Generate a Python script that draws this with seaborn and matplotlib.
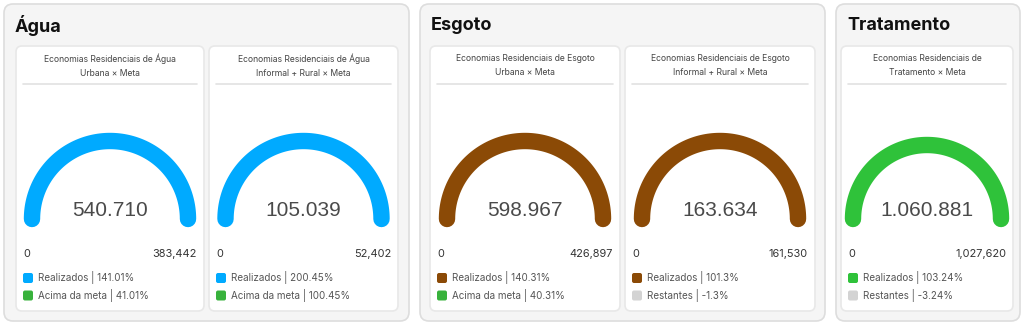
import numpy as np
import pandas as pd
import seaborn as sns
import matplotlib.pyplot as plt
from matplotlib.patches import FancyBboxPatch

grupos = ['Água', 'Esgoto', 'Tratamento']
titulos = [
    'Economias Residenciais de Água\nUrbana × Meta',
    'Economias Residenciais de Água\nInformal + Rural × Meta',
    'Economias Residenciais de Esgoto\nUrbana × Meta',
    'Economias Residenciais de Esgoto\nInformal + Rural × Meta',
    'Economias Residenciais de\nTratamento × Meta',
]
realizados = [540710, 105039, 598967, 163634, 1060881]
metas = [383442, 52402, 426897, 161530, 1027620]
pct_realizado = ['141.01%', '200.45%', '140.31%', '101.3%', '103.24%']
rotulo_extra = ['Acima da meta', 'Acima da meta', 'Acima da meta', 'Restantes', 'Restantes']
pct_extra = ['41.01%', '100.45%', '40.31%', '-1.3%', '-3.24%']
cores = ['#00aaff', '#00aaff', '#8b4a06', '#8b4a06', '#2fc23a']
cores_extra = ['#38b23c', '#38b23c', '#38b23c', '#d3d3d3', '#d3d3d3']

# layout (pixels)
grupo_box = [(4, 409), (420, 825), (836, 1020)]
card_box = [(16, 204), (209, 398), (430, 620), (625, 815), (841, 1013)]
raios = [78, 78, 78, 78, 74]

sns.set_theme(style='white')
plt.rcParams['font.family'] = ['Inter', 'DejaVu Sans']

fig = plt.figure(figsize=(10.24, 3.25), dpi=100)
ax = fig.add_axes([0, 0, 1, 1])
ax.set_xlim(0, 1024)
ax.set_ylim(325, 0)
ax.axis('off')


def caixa(x0, x1, y0, y1, face, edge, r):
    ax.add_patch(FancyBboxPatch((x0, y0), x1 - x0, y1 - y0,
                                boxstyle=f'round,pad=0,rounding_size={r}',
                                facecolor=face, edgecolor=edge, linewidth=1.2))


for (x0, x1), nome in zip(grupo_box, grupos):
    caixa(x0, x1, 4, 321, '#f5f5f5', '#dddddd', 9)
    ax.text(x0 + 11, 25, nome, fontsize=13, fontweight='bold', color='#111111',
            va='center', ha='left')

for i, (x0, x1) in enumerate(card_box):
    caixa(x0, x1, 46, 311, 'white', '#e8e8e8', 6)
    cx = (x0 + x1) / 2
    ax.text(cx, 65.5, titulos[i], fontsize=6.2, color='#444444', ha='center',
            va='center', linespacing=1.75)
    ax.plot([x0 + 7, x1 - 7], [84, 84], color='#e2e2e2', lw=1.2)

    # gauge arc: fraction of meta reached (capped at 100%)
    frac = min(realizados[i] / metas[i], 1.0)
    ang = np.linspace(np.pi, np.pi - np.pi * frac, 120)
    cy = 219
    arco = pd.DataFrame({'x': cx + raios[i] * np.cos(ang),
                         'y': cy - raios[i] * np.sin(ang)})
    sns.lineplot(data=arco, x='x', y='y', sort=False, ax=ax, color=cores[i],
                 linewidth=11.8, solid_capstyle='round')

    ax.text(cx, 210, f'{realizados[i]:,}'.replace(',', '.'), fontsize=15,
            family='Liberation Sans', color='#4a4a4a', ha='center', va='center')
    ax.text(x0 + 7, 254, '0', fontsize=7.9, color='#333333', ha='left', va='center')
    ax.text(x1 - 7, 254, f'{metas[i]:,}', fontsize=7.9, color='#333333',
            ha='right', va='center')

    legenda = [(cores[i], f'Realizados | {pct_realizado[i]}'),
               (cores_extra[i], f'{rotulo_extra[i]} | {pct_extra[i]}')]
    for k, (c, txt) in enumerate(legenda):
        yy = 278 + k * 17.5
        ax.add_patch(FancyBboxPatch((x0 + 7, yy - 5), 10, 10,
                                    boxstyle='round,pad=0,rounding_size=2',
                                    facecolor=c, edgecolor='none'))
        ax.text(x0 + 22, yy, txt, fontsize=7.1, color='#555555', ha='left',
                va='center')

ax.set_xlabel('')
ax.set_ylabel('')
fig.savefig('out.png', dpi=100)
